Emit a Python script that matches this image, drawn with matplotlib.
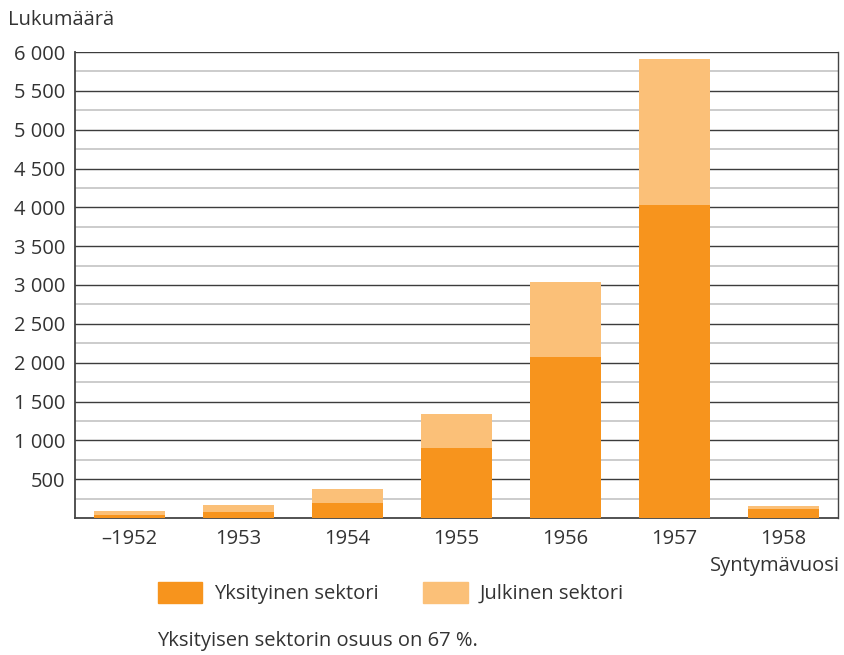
import numpy as np
import matplotlib
matplotlib.use("Agg")
import matplotlib.pyplot as plt
from matplotlib.patches import Patch

plt.rcParams["font.family"] = ["Open Sans", "DejaVu Sans"]

# data
years   = ["\u20131952", "1953", "1954", "1955", "1956", "1957", "1958"]
private = [40, 80, 195, 900, 2070, 4030, 110]
public  = [50, 90, 180, 440, 965, 1880, 45]

c_priv = "#F7941D"
c_pub  = "#FBC078"
txt    = "#333333"
fs     = 14.5

fig = plt.figure(figsize=(8.45, 6.55), dpi=100)
ax = fig.add_axes([75 / 845, 1 - 518 / 655, 763 / 845, 466 / 655])

x = np.arange(len(years))
ax.bar(x, private, width=0.66, color=c_priv, zorder=3)
ax.bar(x, public, width=0.66, bottom=private, color=c_pub, zorder=3)

ax.set_xlim(-0.5, len(years) - 0.5)
ax.set_ylim(0, 6000)

# gridlines: dark every 500, light every 250
for v in np.arange(250, 6001, 250):
    major = v % 500 == 0
    ax.axhline(v, color="#3c3c3c" if major else "#c4c4c4",
               lw=1.0 if major else 1.2, zorder=1)

yt = np.arange(500, 6001, 500)
ax.set_yticks(yt)
ax.set_yticklabels([f"{v:,}".replace(",", " ") for v in yt])
ax.set_xticks(x)
ax.set_xticklabels(years)
ax.tick_params(length=0, labelsize=fs, colors=txt, pad=7)
ax.tick_params(axis="x", pad=8)

for s in ["left", "bottom", "right"]:
    ax.spines[s].set_color("#444444")
    ax.spines[s].set_linewidth(1.3)
ax.spines["right"].set_linewidth(1.0)
ax.spines["top"].set_visible(False)

fig.text(8 / 845, 1 - 20 / 655, "Lukumäärä", fontsize=fs, color=txt, va="center")
fig.text(840 / 845, 1 - 566 / 655, "Syntymävuosi", fontsize=fs, color=txt,
         va="center", ha="right")

handles = [Patch(color=c_priv, label="Yksityinen sektori"),
           Patch(color=c_pub, label="Julkinen sektori")]
fig.legend(handles=handles, loc="center left",
           bbox_to_anchor=(140 / 845, 1 - 593 / 655), ncol=2, frameon=False,
           fontsize=fs, labelcolor=txt, handlelength=2.2, handleheight=1.25,
           handletextpad=0.6, columnspacing=2.2)

fig.text(157 / 845, 1 - 641 / 655, "Yksityisen sektorin osuus on 67 %.",
         fontsize=fs, color=txt, va="center")

fig.savefig("out.png", dpi=100)
